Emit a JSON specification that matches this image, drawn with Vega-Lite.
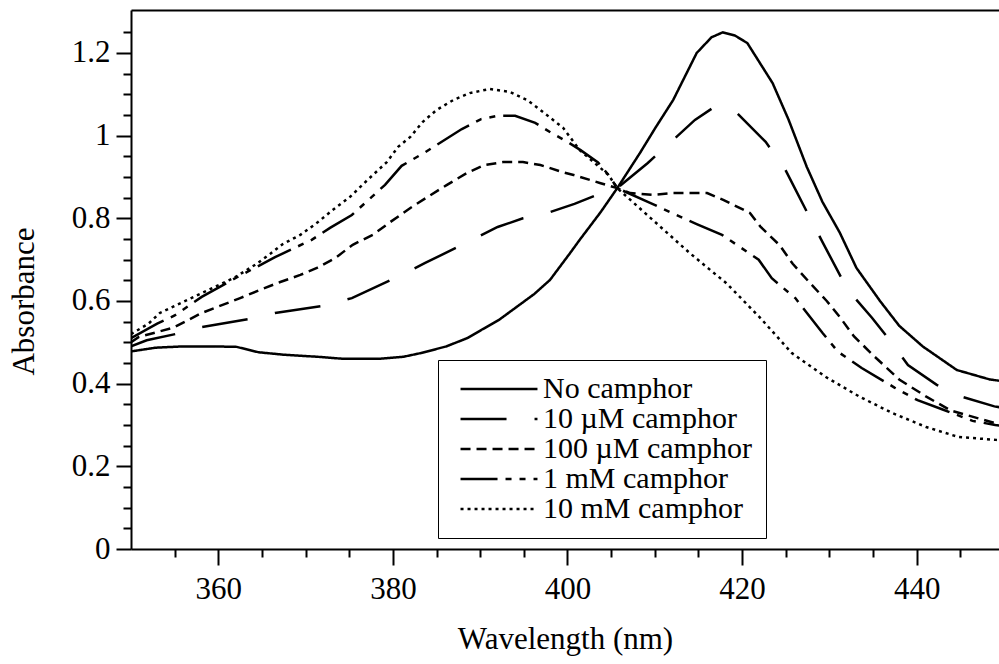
{
  "$schema": "https://vega.github.io/schema/vega-lite/v6.json",
  "width": 868,
  "height": 539,
  "autosize": {"type": "none"},
  "padding": {"left": 131, "top": 10, "right": 0, "bottom": 115},
  "background": "white",
  "config": {
    "view": {"stroke": null},
    "axis": {
      "grid": false,
      "domainColor": "black",
      "domainWidth": 2,
      "tickColor": "black",
      "tickWidth": 2,
      "labelFont": "Liberation Serif",
      "labelFontSize": 31,
      "labelColor": "black",
      "titleFont": "Liberation Serif",
      "titleFontSize": 31,
      "titleFontWeight": "normal",
      "titleColor": "black"
    }
  },
  "data": {
    "values": [
      {"s": "No camphor", "w": 350, "a": 0.478},
      {"s": "No camphor", "w": 352.8, "a": 0.487},
      {"s": "No camphor", "w": 355.8, "a": 0.49},
      {"s": "No camphor", "w": 359.7, "a": 0.49},
      {"s": "No camphor", "w": 362.1, "a": 0.489},
      {"s": "No camphor", "w": 364.6, "a": 0.476},
      {"s": "No camphor", "w": 367.5, "a": 0.47},
      {"s": "No camphor", "w": 371.4, "a": 0.465},
      {"s": "No camphor", "w": 374.4, "a": 0.46},
      {"s": "No camphor", "w": 378.3, "a": 0.46},
      {"s": "No camphor", "w": 381.2, "a": 0.465},
      {"s": "No camphor", "w": 383.2, "a": 0.474},
      {"s": "No camphor", "w": 386.1, "a": 0.49},
      {"s": "No camphor", "w": 388.5, "a": 0.51},
      {"s": "No camphor", "w": 390.3, "a": 0.532},
      {"s": "No camphor", "w": 392.2, "a": 0.555},
      {"s": "No camphor", "w": 394.2, "a": 0.586},
      {"s": "No camphor", "w": 396.2, "a": 0.617},
      {"s": "No camphor", "w": 398, "a": 0.651},
      {"s": "No camphor", "w": 400.3, "a": 0.716},
      {"s": "No camphor", "w": 401.4, "a": 0.748},
      {"s": "No camphor", "w": 403.8, "a": 0.815},
      {"s": "No camphor", "w": 405.7, "a": 0.873},
      {"s": "No camphor", "w": 408.3, "a": 0.958},
      {"s": "No camphor", "w": 410.1, "a": 1.02},
      {"s": "No camphor", "w": 412.1, "a": 1.086},
      {"s": "No camphor", "w": 414.8, "a": 1.2},
      {"s": "No camphor", "w": 416.5, "a": 1.238},
      {"s": "No camphor", "w": 417.8, "a": 1.25},
      {"s": "No camphor", "w": 419.2, "a": 1.242},
      {"s": "No camphor", "w": 420.6, "a": 1.224},
      {"s": "No camphor", "w": 423.5, "a": 1.127},
      {"s": "No camphor", "w": 425.3, "a": 1.04},
      {"s": "No camphor", "w": 427.4, "a": 0.925},
      {"s": "No camphor", "w": 429.2, "a": 0.84},
      {"s": "No camphor", "w": 431.2, "a": 0.765},
      {"s": "No camphor", "w": 433.1, "a": 0.68},
      {"s": "No camphor", "w": 435.8, "a": 0.6},
      {"s": "No camphor", "w": 438, "a": 0.54},
      {"s": "No camphor", "w": 440.7, "a": 0.49},
      {"s": "No camphor", "w": 444.6, "a": 0.433},
      {"s": "No camphor", "w": 448.4, "a": 0.41},
      {"s": "No camphor", "w": 451, "a": 0.403},

      {"s": "10 µM camphor", "w": 350, "a": 0.49},
      {"s": "10 µM camphor", "w": 351.8, "a": 0.505},
      {"s": "10 µM camphor", "w": 355.1, "a": 0.52},
      {"s": "10 µM camphor", "w": 358.1, "a": 0.537},
      {"s": "10 µM camphor", "w": 363.4, "a": 0.556},
      {"s": "10 µM camphor", "w": 366.5, "a": 0.571},
      {"s": "10 µM camphor", "w": 372, "a": 0.588},
      {"s": "10 µM camphor", "w": 375.3, "a": 0.607},
      {"s": "10 µM camphor", "w": 380.5, "a": 0.658},
      {"s": "10 µM camphor", "w": 383.7, "a": 0.692},
      {"s": "10 µM camphor", "w": 389.1, "a": 0.748},
      {"s": "10 µM camphor", "w": 392, "a": 0.779},
      {"s": "10 µM camphor", "w": 394.9, "a": 0.8},
      {"s": "10 µM camphor", "w": 397.7, "a": 0.813},
      {"s": "10 µM camphor", "w": 400.8, "a": 0.835},
      {"s": "10 µM camphor", "w": 403.8, "a": 0.86},
      {"s": "10 µM camphor", "w": 405.7, "a": 0.873},
      {"s": "10 µM camphor", "w": 409.2, "a": 0.934},
      {"s": "10 µM camphor", "w": 411.6, "a": 0.98},
      {"s": "10 µM camphor", "w": 414.6, "a": 1.038},
      {"s": "10 µM camphor", "w": 416.5, "a": 1.065},
      {"s": "10 µM camphor", "w": 417.7, "a": 1.069},
      {"s": "10 µM camphor", "w": 419.4, "a": 1.055},
      {"s": "10 µM camphor", "w": 422.7, "a": 0.985},
      {"s": "10 µM camphor", "w": 424.9, "a": 0.92},
      {"s": "10 µM camphor", "w": 427.8, "a": 0.8},
      {"s": "10 µM camphor", "w": 429.2, "a": 0.743},
      {"s": "10 µM camphor", "w": 432.1, "a": 0.627},
      {"s": "10 µM camphor", "w": 434.9, "a": 0.559},
      {"s": "10 µM camphor", "w": 437.1, "a": 0.5},
      {"s": "10 µM camphor", "w": 439, "a": 0.445},
      {"s": "10 µM camphor", "w": 442.3, "a": 0.397},
      {"s": "10 µM camphor", "w": 444.9, "a": 0.37},
      {"s": "10 µM camphor", "w": 448.9, "a": 0.345},
      {"s": "10 µM camphor", "w": 451, "a": 0.338},

      {"s": "100 µM camphor", "w": 350, "a": 0.5},
      {"s": "100 µM camphor", "w": 350.9, "a": 0.513},
      {"s": "100 µM camphor", "w": 354.8, "a": 0.535},
      {"s": "100 µM camphor", "w": 358.1, "a": 0.571},
      {"s": "100 µM camphor", "w": 362.5, "a": 0.607},
      {"s": "100 µM camphor", "w": 364.8, "a": 0.627},
      {"s": "100 µM camphor", "w": 367.1, "a": 0.646},
      {"s": "100 µM camphor", "w": 369.4, "a": 0.663},
      {"s": "100 µM camphor", "w": 371.3, "a": 0.68},
      {"s": "100 µM camphor", "w": 373.4, "a": 0.704},
      {"s": "100 µM camphor", "w": 375.4, "a": 0.736},
      {"s": "100 µM camphor", "w": 377.7, "a": 0.76},
      {"s": "100 µM camphor", "w": 379.7, "a": 0.791},
      {"s": "100 µM camphor", "w": 382, "a": 0.825},
      {"s": "100 µM camphor", "w": 384, "a": 0.852},
      {"s": "100 µM camphor", "w": 386.2, "a": 0.881},
      {"s": "100 µM camphor", "w": 388.5, "a": 0.91},
      {"s": "100 µM camphor", "w": 390.5, "a": 0.929},
      {"s": "100 µM camphor", "w": 392.6, "a": 0.936},
      {"s": "100 µM camphor", "w": 394.9, "a": 0.936},
      {"s": "100 µM camphor", "w": 396.9, "a": 0.929},
      {"s": "100 µM camphor", "w": 399.4, "a": 0.912},
      {"s": "100 µM camphor", "w": 400.7, "a": 0.905},
      {"s": "100 µM camphor", "w": 403.8, "a": 0.885},
      {"s": "100 µM camphor", "w": 405.7, "a": 0.873},
      {"s": "100 µM camphor", "w": 407.2, "a": 0.861},
      {"s": "100 µM camphor", "w": 409.8, "a": 0.857},
      {"s": "100 µM camphor", "w": 412.1, "a": 0.861},
      {"s": "100 µM camphor", "w": 416, "a": 0.861},
      {"s": "100 µM camphor", "w": 417.9, "a": 0.844},
      {"s": "100 µM camphor", "w": 420.9, "a": 0.813},
      {"s": "100 µM camphor", "w": 422.1, "a": 0.78},
      {"s": "100 µM camphor", "w": 424.3, "a": 0.735},
      {"s": "100 µM camphor", "w": 425.8, "a": 0.69},
      {"s": "100 µM camphor", "w": 427.8, "a": 0.643},
      {"s": "100 µM camphor", "w": 429.7, "a": 0.6},
      {"s": "100 µM camphor", "w": 431.2, "a": 0.561},
      {"s": "100 µM camphor", "w": 432.8, "a": 0.515},
      {"s": "100 µM camphor", "w": 435.1, "a": 0.467},
      {"s": "100 µM camphor", "w": 438, "a": 0.41},
      {"s": "100 µM camphor", "w": 441, "a": 0.37},
      {"s": "100 µM camphor", "w": 443.9, "a": 0.335},
      {"s": "100 µM camphor", "w": 448.9, "a": 0.305},
      {"s": "100 µM camphor", "w": 451, "a": 0.3},

      {"s": "1 mM camphor", "w": 350, "a": 0.51},
      {"s": "1 mM camphor", "w": 353, "a": 0.545},
      {"s": "1 mM camphor", "w": 355, "a": 0.565},
      {"s": "1 mM camphor", "w": 358.1, "a": 0.61},
      {"s": "1 mM camphor", "w": 362.2, "a": 0.658},
      {"s": "1 mM camphor", "w": 366.5, "a": 0.706},
      {"s": "1 mM camphor", "w": 370.7, "a": 0.748},
      {"s": "1 mM camphor", "w": 372.8, "a": 0.777},
      {"s": "1 mM camphor", "w": 375.3, "a": 0.808},
      {"s": "1 mM camphor", "w": 379.1, "a": 0.881},
      {"s": "1 mM camphor", "w": 381, "a": 0.927},
      {"s": "1 mM camphor", "w": 383.7, "a": 0.96},
      {"s": "1 mM camphor", "w": 387.9, "a": 1.016},
      {"s": "1 mM camphor", "w": 390.1, "a": 1.04},
      {"s": "1 mM camphor", "w": 392, "a": 1.048},
      {"s": "1 mM camphor", "w": 394, "a": 1.048},
      {"s": "1 mM camphor", "w": 396.3, "a": 1.031},
      {"s": "1 mM camphor", "w": 398.2, "a": 1.006},
      {"s": "1 mM camphor", "w": 400, "a": 0.985},
      {"s": "1 mM camphor", "w": 401.5, "a": 0.965},
      {"s": "1 mM camphor", "w": 403.5, "a": 0.935},
      {"s": "1 mM camphor", "w": 404.7, "a": 0.905},
      {"s": "1 mM camphor", "w": 405.7, "a": 0.873},
      {"s": "1 mM camphor", "w": 409.2, "a": 0.84},
      {"s": "1 mM camphor", "w": 413.3, "a": 0.8},
      {"s": "1 mM camphor", "w": 414.8, "a": 0.786},
      {"s": "1 mM camphor", "w": 417.7, "a": 0.76},
      {"s": "1 mM camphor", "w": 421.9, "a": 0.7},
      {"s": "1 mM camphor", "w": 423.4, "a": 0.655},
      {"s": "1 mM camphor", "w": 426.1, "a": 0.607},
      {"s": "1 mM camphor", "w": 429.2, "a": 0.523},
      {"s": "1 mM camphor", "w": 431, "a": 0.477},
      {"s": "1 mM camphor", "w": 433.7, "a": 0.438},
      {"s": "1 mM camphor", "w": 437.5, "a": 0.39},
      {"s": "1 mM camphor", "w": 440.1, "a": 0.36},
      {"s": "1 mM camphor", "w": 442.9, "a": 0.338},
      {"s": "1 mM camphor", "w": 446.4, "a": 0.31},
      {"s": "1 mM camphor", "w": 449, "a": 0.3},
      {"s": "1 mM camphor", "w": 451, "a": 0.295},

      {"s": "10 mM camphor", "w": 350, "a": 0.52},
      {"s": "10 mM camphor", "w": 352, "a": 0.545},
      {"s": "10 mM camphor", "w": 353.3, "a": 0.571},
      {"s": "10 mM camphor", "w": 358.1, "a": 0.619},
      {"s": "10 mM camphor", "w": 361.8, "a": 0.656},
      {"s": "10 mM camphor", "w": 364.4, "a": 0.69},
      {"s": "10 mM camphor", "w": 366, "a": 0.715},
      {"s": "10 mM camphor", "w": 367.4, "a": 0.738},
      {"s": "10 mM camphor", "w": 369.4, "a": 0.76},
      {"s": "10 mM camphor", "w": 371.3, "a": 0.789},
      {"s": "10 mM camphor", "w": 373.1, "a": 0.82},
      {"s": "10 mM camphor", "w": 375.1, "a": 0.852},
      {"s": "10 mM camphor", "w": 377.1, "a": 0.893},
      {"s": "10 mM camphor", "w": 379.3, "a": 0.936},
      {"s": "10 mM camphor", "w": 380.6, "a": 0.973},
      {"s": "10 mM camphor", "w": 382, "a": 0.997},
      {"s": "10 mM camphor", "w": 383.4, "a": 1.033},
      {"s": "10 mM camphor", "w": 385, "a": 1.062},
      {"s": "10 mM camphor", "w": 386.9, "a": 1.086},
      {"s": "10 mM camphor", "w": 388.8, "a": 1.103},
      {"s": "10 mM camphor", "w": 391.1, "a": 1.113},
      {"s": "10 mM camphor", "w": 393.4, "a": 1.106},
      {"s": "10 mM camphor", "w": 395.4, "a": 1.086},
      {"s": "10 mM camphor", "w": 397.2, "a": 1.057},
      {"s": "10 mM camphor", "w": 399.5, "a": 1.019},
      {"s": "10 mM camphor", "w": 401.4, "a": 0.965},
      {"s": "10 mM camphor", "w": 404.7, "a": 0.905},
      {"s": "10 mM camphor", "w": 405.7, "a": 0.873},
      {"s": "10 mM camphor", "w": 409.4, "a": 0.803},
      {"s": "10 mM camphor", "w": 414, "a": 0.716},
      {"s": "10 mM camphor", "w": 418.2, "a": 0.643},
      {"s": "10 mM camphor", "w": 422, "a": 0.561},
      {"s": "10 mM camphor", "w": 425.7, "a": 0.474},
      {"s": "10 mM camphor", "w": 429.6, "a": 0.416},
      {"s": "10 mM camphor", "w": 433.5, "a": 0.368},
      {"s": "10 mM camphor", "w": 437.2, "a": 0.329},
      {"s": "10 mM camphor", "w": 441.1, "a": 0.295},
      {"s": "10 mM camphor", "w": 444.8, "a": 0.271},
      {"s": "10 mM camphor", "w": 449.1, "a": 0.264},
      {"s": "10 mM camphor", "w": 451, "a": 0.262}
    ]
  },
  "resolve": {"axis": {"x": "independent", "y": "independent"}},
  "layer": [
    {
      "mark": {"type": "line", "color": "black", "strokeWidth": 2.5, "clip": true},
      "encoding": {
        "x": {
          "field": "w", "type": "quantitative",
          "scale": {"domain": [350, 449.43], "nice": false, "zero": false},
          "axis": {
            "orient": "bottom",
            "values": [360, 380, 400, 420, 440],
            "tickSize": 16,
            "labelPadding": 9,
            "title": "Wavelength (nm)",
            "titleBaseline": "alphabetic",
            "titleY": 99
          }
        },
        "y": {
          "field": "a", "type": "quantitative",
          "scale": {"domain": [0, 1.304], "nice": false},
          "axis": {
            "orient": "left",
            "values": [0, 0.2, 0.4, 0.6, 0.8, 1, 1.2],
            "format": ".1~f",
            "tickSize": 15,
            "labelPadding": 6,
            "title": "Absorbance",
            "titleBaseline": "middle",
            "titleAlign": "center",
            "titleX": -107,
            "titleY": 291
          }
        },
        "strokeDash": {
          "field": "s", "type": "nominal",
          "scale": {
            "domain": ["No camphor", "10 µM camphor", "100 µM camphor", "1 mM camphor", "10 mM camphor"],
            "range": [[1, 0], [46, 28], [10, 6], [37, 8, 6, 8, 6, 8], [3, 4]]
          },
          "legend": {
            "orient": "none",
            "legendX": 307,
            "legendY": 350,
            "title": null,
            "symbolType": "M-4,0H4",
            "symbolSize": 370,
            "symbolStrokeWidth": 2.5,
            "symbolStrokeColor": "black",
            "symbolOffset": 32,
            "labelFont": "Liberation Serif",
            "labelFontSize": 30,
            "labelColor": "black",
            "labelOffset": 29,
            "labelLimit": 400,
            "rowPadding": 0,
            "padding": 14,
            "strokeColor": "black",
            "fillColor": "white"
          }
        }
      }
    },
    {
      "mark": {"type": "line", "opacity": 0},
      "encoding": {
        "x": {
          "field": "w", "type": "quantitative",
          "axis": {
            "orient": "bottom",
            "values": [355, 365, 370, 375, 385, 390, 395, 405, 410, 415, 425, 430, 435, 445],
            "tickSize": 8,
            "labels": false,
            "domain": false,
            "title": null
          }
        },
        "y": {
          "field": "a", "type": "quantitative",
          "axis": {
            "orient": "left",
            "values": [0.05, 0.1, 0.15, 0.25, 0.3, 0.35, 0.45, 0.5, 0.55, 0.65, 0.7, 0.75, 0.85, 0.9, 0.95, 1.05, 1.1, 1.15, 1.25],
            "tickSize": 8,
            "labels": false,
            "domain": false,
            "title": null
          }
        }
      }
    },
    {
      "mark": {"type": "line", "opacity": 0},
      "encoding": {
        "x": {
          "field": "w", "type": "quantitative",
          "axis": {
            "orient": "top",
            "ticks": false,
            "labels": false,
            "domain": true,
            "title": null
          }
        },
        "y": {"field": "a", "type": "quantitative", "axis": null}
      }
    }
  ]
}
